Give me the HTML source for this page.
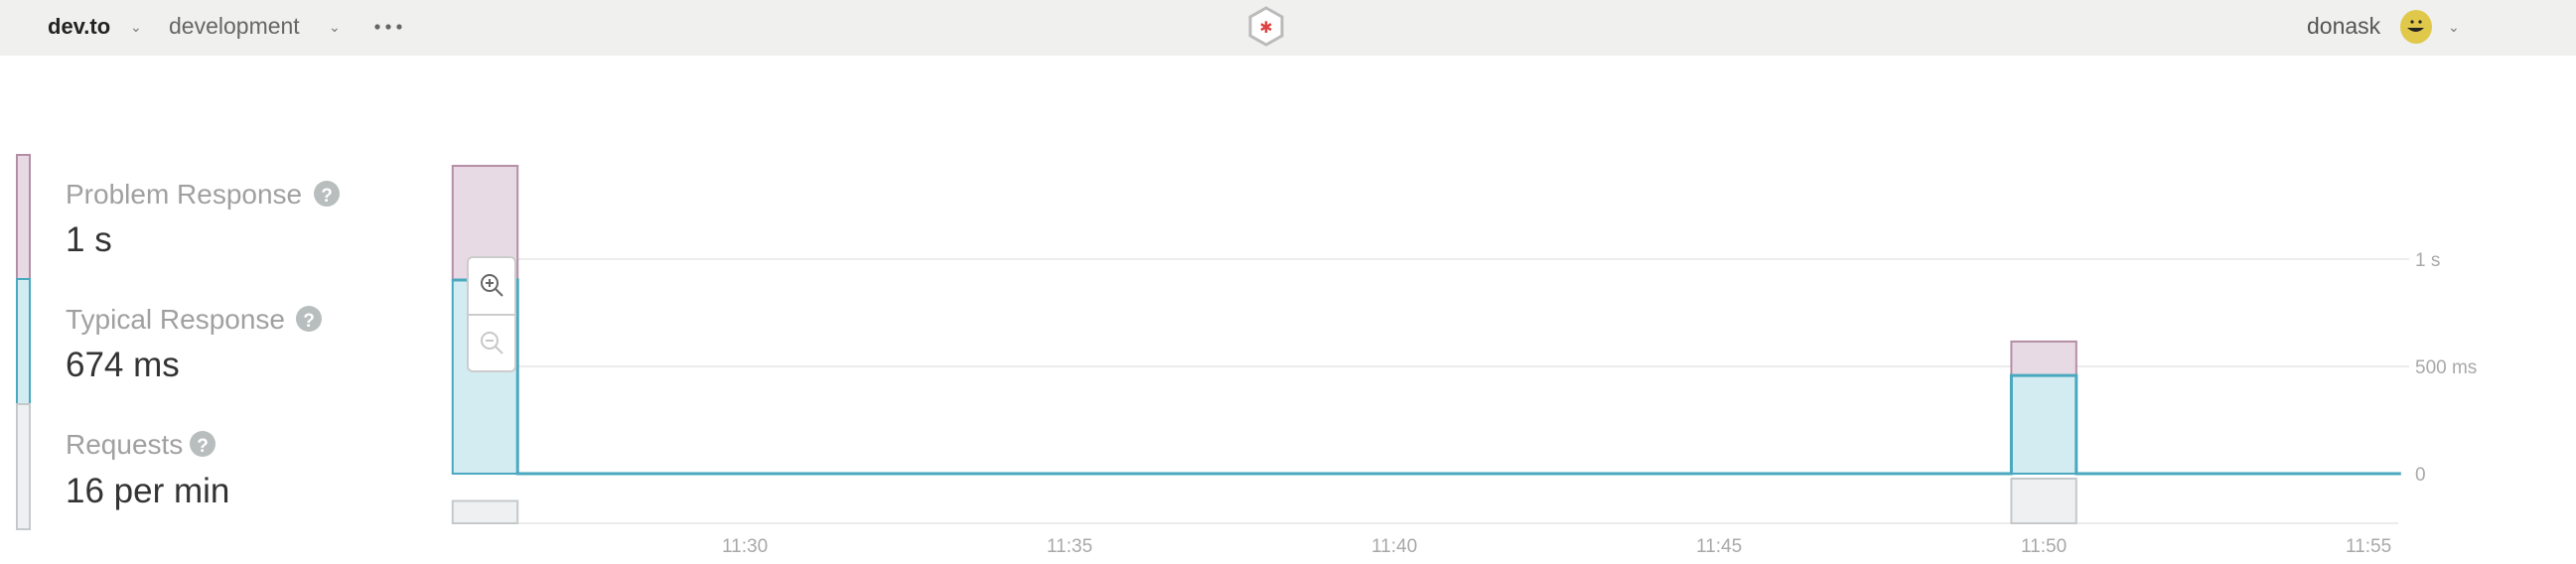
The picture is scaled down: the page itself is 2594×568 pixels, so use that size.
<!DOCTYPE html>
<html><head><meta charset="utf-8"><style>
html,body{margin:0;padding:0;background:#fff;width:2594px;height:568px;overflow:hidden;font-family:"Liberation Sans",sans-serif;}
svg{display:block}
</style></head><body>
<svg id="root" width="2594" height="568" xmlns="http://www.w3.org/2000/svg">
  <rect x="0" y="0" width="2594" height="56" fill="#f0f0ee"/>
  <text x="48" y="34" font-size="22" font-weight="bold" fill="#222">dev.to</text>
  <text x="131" y="32" font-size="14" fill="#777">⌄</text>
  <text x="170" y="34" font-size="23" fill="#666">development</text>
  <text x="331" y="32" font-size="14" fill="#777">⌄</text>
  <g fill="#666">
    <circle cx="380" cy="27" r="2.6"/><circle cx="391" cy="27" r="2.6"/><circle cx="402" cy="27" r="2.6"/>
  </g>
  <g>
    <polygon points="1275,8 1291,17 1291,36 1275,45 1259,36 1259,17" fill="#fff" stroke="#bbb" stroke-width="3"/>
    <text x="1275" y="33" font-size="16" text-anchor="middle" fill="#d44">✱</text>
  </g>
  <text x="2323" y="34" font-size="23" fill="#555">donask</text>
  <g>
    <ellipse cx="2433" cy="27" rx="16" ry="17" fill="#e0c84a"/>
    <circle cx="2429" cy="22" r="1.6" fill="#222"/><circle cx="2437" cy="22" r="1.6" fill="#222"/>
    <path d="M2424 28 Q2433 36 2441 28 Z" fill="#222"/>
  </g>
  <text x="2465" y="32" font-size="14" fill="#777">⌄</text>

  <g>
    <rect x="17" y="156" width="13" height="125" fill="#e8dae4" stroke="#b48ea6" stroke-width="2"/>
    <rect x="17" y="281" width="13" height="126" fill="#d3ecf1" stroke="#4aa8bf" stroke-width="2"/>
    <rect x="17" y="407" width="13" height="126" fill="#eef0f2" stroke="#c5c9cb" stroke-width="2"/>
    <text x="66" y="205" font-size="28" fill="#a0a0a0">Problem Response</text>
    <g><circle cx="329" cy="195" r="13" fill="#b8bdbe"/><text x="329" y="203" font-size="19" font-weight="bold" text-anchor="middle" fill="#fff">?</text></g>
    <text x="66" y="253" font-size="35" fill="#333">1 s</text>
    <text x="66" y="331" font-size="28" fill="#a0a0a0">Typical Response</text>
    <g><circle cx="311" cy="321" r="13" fill="#b8bdbe"/><text x="311" y="329" font-size="19" font-weight="bold" text-anchor="middle" fill="#fff">?</text></g>
    <text x="66" y="379" font-size="35" fill="#333">674 ms</text>
    <text x="66" y="457" font-size="28" fill="#a0a0a0">Requests</text>
    <g><circle cx="204" cy="447" r="13" fill="#b8bdbe"/><text x="204" y="455" font-size="19" font-weight="bold" text-anchor="middle" fill="#fff">?</text></g>
    <text x="66" y="506" font-size="35" fill="#333">16 per min</text>
  </g>
  <g id="chart"></g>
  <g>
    <rect x="471" y="259" width="48" height="115" rx="5" fill="#fff" stroke="#ccc" stroke-width="2"/>
    <line x1="471" y1="317" x2="519" y2="317" stroke="#ccc" stroke-width="2"/>
    <g stroke="#666" stroke-width="2" fill="none">
      <circle cx="493" cy="285" r="8"/><line x1="499" y1="291" x2="506" y2="298"/><line x1="489" y1="285" x2="497" y2="285"/><line x1="493" y1="281" x2="493" y2="289"/>
    </g>
    <g stroke="#c8c8c8" stroke-width="2" fill="none">
      <circle cx="493" cy="343" r="8"/><line x1="499" y1="349" x2="506" y2="356"/><line x1="489" y1="343" x2="497" y2="343"/>
    </g>
  </g>
</svg>
<script>
const minutes = ["11:26","11:27","11:28","11:29","11:30","11:31","11:32","11:33","11:34","11:35","11:36","11:37","11:38","11:39","11:40","11:41","11:42","11:43","11:44","11:45","11:46","11:47","11:48","11:49","11:50","11:51","11:52","11:53","11:54","11:55"];
const problemMs = [1435,0,0,0,0,0,0,0,0,0,0,0,0,0,0,0,0,0,0,0,0,0,0,0,616,0,0,0,0,0];
const typicalMs = [903,0,0,0,0,0,0,0,0,0,0,0,0,0,0,0,0,0,0,0,0,0,0,0,458,0,0,0,0,0];
const requests = [1,0,0,0,0,0,0,0,0,0,0,0,0,0,0,0,0,0,0,0,0,0,0,0,2,0,0,0,0,0];
const yTicks = [0,500,1000];
const yTickLabels = ["0","500 ms","1 s"];
const xTickLabels = ["11:30","11:35","11:40","11:45","11:50","11:55"];

const NS="http://www.w3.org/2000/svg";
const g=document.getElementById('chart');
const bw=65.4, x0=488.5;
const x=i=>x0+i*bw;
const y=v=>477-v*0.216;
const reqBase=527, reqMax=Math.max(...requests,1);
const yr=v=>reqBase-v/reqMax*45;
function el(t,a){const e=document.createElementNS(NS,t);for(const k in a)e.setAttribute(k,a[k]);g.appendChild(e);return e;}
yTicks.forEach((t,i)=>{
  if(t>0){const l=el('line',{x1:456,x2:2426,y1:y(t),y2:y(t),stroke:'#ececec','stroke-width':2});
  
  }
  const tx=el('text',{x:2432,y:y(t)+7,'font-size':19,fill:'#a8a8a8'});tx.textContent=yTickLabels[i];
  
  
});
const rb=el('line',{x1:456,x2:2415,y1:reqBase,y2:reqBase,stroke:'#ececec','stroke-width':2});


minutes.forEach((m,i)=>{
  const l=x(i)-bw/2;
  if(problemMs[i]>0){
    const r=el('rect',{x:l,y:y(problemMs[i]),width:bw,height:y(typicalMs[i])-y(problemMs[i]),fill:'#e8dae4',stroke:'#b48ea6','stroke-width':2});
    
    
  }
  if(typicalMs[i]>0){
    const r=el('rect',{x:l,y:y(typicalMs[i]),width:bw,height:477-y(typicalMs[i]),fill:'#d3ecf1',stroke:'#4aa8bf','stroke-width':2});
    
    
  }
  if(requests[i]>0){
    const r=el('rect',{x:l,y:yr(requests[i]),width:bw,height:reqBase-yr(requests[i]),fill:'#eef0f2',stroke:'#c5c9cb','stroke-width':2});
    
    
  }
});
let d='';
minutes.forEach((m,i)=>{const l=x(i)-bw/2,r=x(i)+bw/2,yy=y(typicalMs[i]);d+=(i?'L':'M')+l+' '+yy+' L'+r+' '+yy+' ';});
const p=el('path',{d:d,fill:'none',stroke:'#4aa8bf','stroke-width':3});


xTickLabels.forEach(t=>{
  const i=minutes.indexOf(t);
  const tx=el('text',{x:x(i),y:556,'font-size':19,fill:'#a8a8a8','text-anchor':'middle'});tx.textContent=t;
  
  
});
</script>
</body></html>
